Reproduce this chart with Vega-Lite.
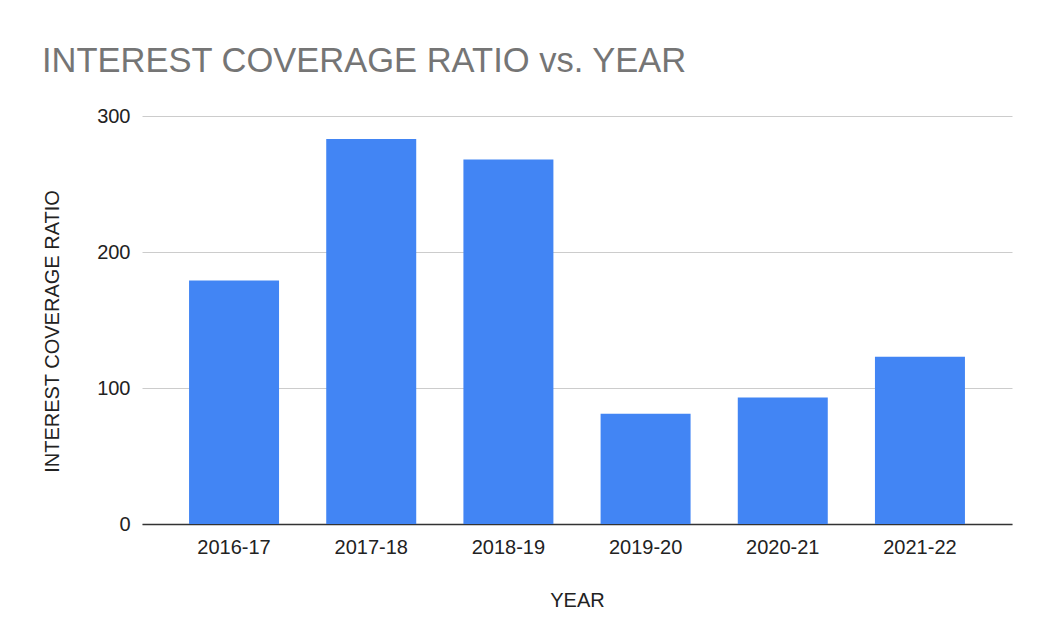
{
  "$schema": "https://vega.github.io/schema/vega-lite/v6.json",
  "width": 870,
  "height": 408,
  "autosize": {"type": "none"},
  "padding": {"left": 142, "top": 116, "right": 27, "bottom": 119},
  "background": "white",
  "title": {
    "text": "INTEREST COVERAGE RATIO vs. YEAR",
    "anchor": "start",
    "frame": "group",
    "dx": -100,
    "dy": 43,
    "font": "Liberation Sans",
    "fontSize": 34.5,
    "fontWeight": "normal",
    "color": "#757575",
    "baseline": "alphabetic",
    "offset": 43
  },
  "data": {
    "values": [
      {"YEAR": "2016-17", "RATIO": 179},
      {"YEAR": "2017-18", "RATIO": 283},
      {"YEAR": "2018-19", "RATIO": 268},
      {"YEAR": "2019-20", "RATIO": 81},
      {"YEAR": "2020-21", "RATIO": 93},
      {"YEAR": "2021-22", "RATIO": 123}
    ]
  },
  "mark": {"type": "bar", "color": "#4285F4"},
  "encoding": {
    "x": {
      "field": "YEAR",
      "type": "nominal",
      "sort": null,
      "title": "YEAR",
      "scale": {"paddingInner": 0.344, "paddingOuter": 0.343},
      "axis": {
        "labelAngle": 0,
        "labelFont": "Liberation Sans",
        "labelFontSize": 20,
        "labelColor": "#222222",
        "labelPadding": 13,
        "ticks": false,
        "domain": true,
        "domainColor": "#333333",
        "domainWidth": 1.5,
        "titleFont": "Liberation Sans",
        "titleFontSize": 20,
        "titleFontWeight": "normal",
        "titleColor": "#222222",
        "titlePadding": 33
      }
    },
    "y": {
      "field": "RATIO",
      "type": "quantitative",
      "title": "INTEREST COVERAGE RATIO",
      "scale": {"domain": [0, 300]},
      "axis": {
        "values": [0, 100, 200, 300],
        "labelFont": "Liberation Sans",
        "labelFontSize": 20,
        "labelColor": "#222222",
        "labelPadding": 12,
        "ticks": false,
        "domain": false,
        "grid": true,
        "gridColor": "#cccccc",
        "gridWidth": 1,
        "titleFont": "Liberation Sans",
        "titleFontSize": 20,
        "titleFontWeight": "normal",
        "titleColor": "#222222",
        "titlePadding": 34,
        "titleY": 215
      }
    }
  },
  "config": {"view": {"stroke": null}}
}
